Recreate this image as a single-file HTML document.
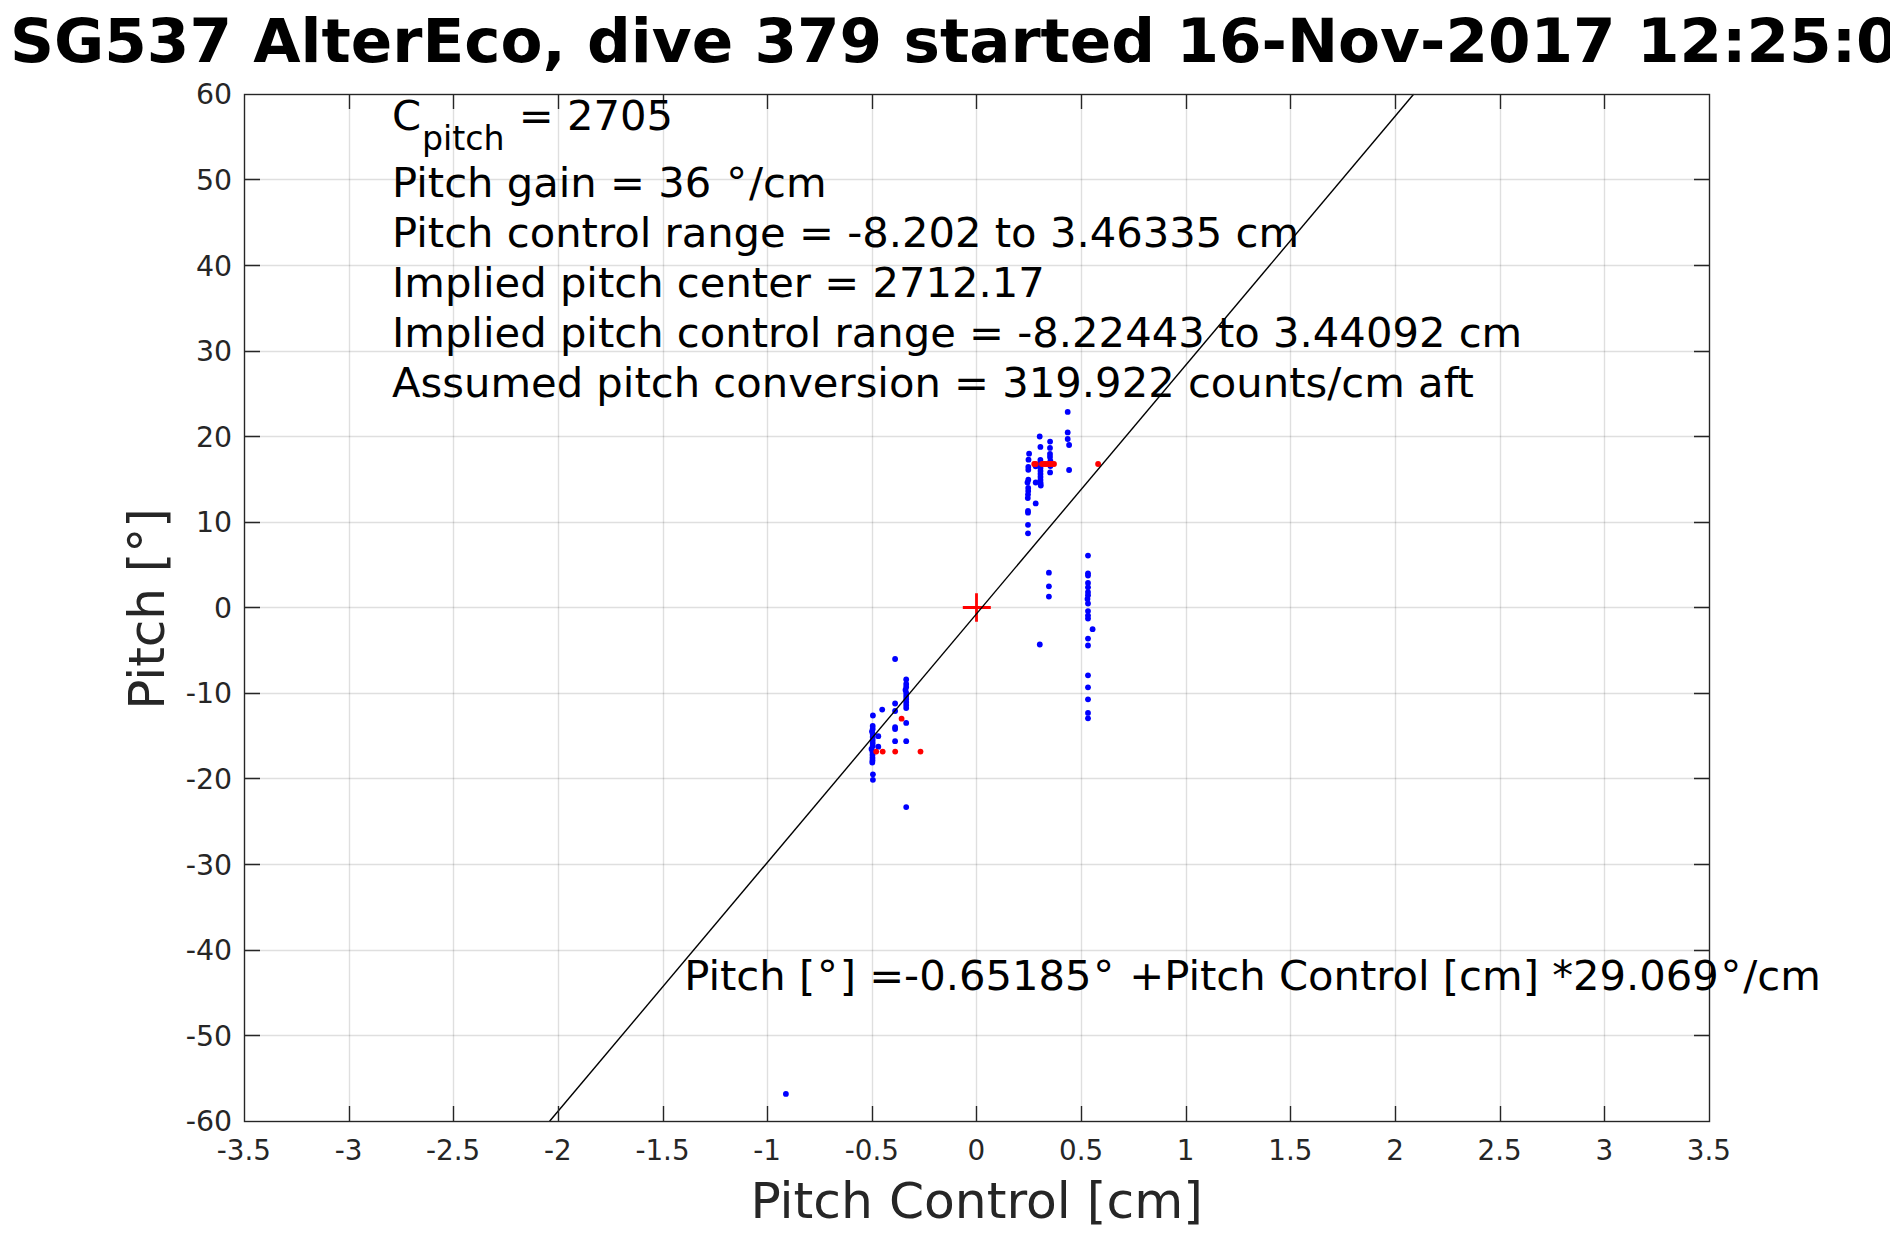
<!DOCTYPE html>
<html lang="en"><head><meta charset="utf-8"><title>SG537 AlterEco, dive 379</title>
<style>html,body{margin:0;padding:0;background:#fff;}body{width:1890px;height:1260px;overflow:hidden;}svg{display:block;}text{font-family:'DejaVu Sans','Liberation Sans',sans-serif;white-space:pre;}</style></head><body>
<svg width="1890" height="1260" viewBox="0 0 1890 1260">
<rect x="0" y="0" width="1890" height="1260" fill="#fff"/>
<path d="M349.5 94.5V1121.5M453.5 94.5V1121.5M558.5 94.5V1121.5M663.5 94.5V1121.5M767.5 94.5V1121.5M872.5 94.5V1121.5M976.5 94.5V1121.5M1081.5 94.5V1121.5M1186.5 94.5V1121.5M1290.5 94.5V1121.5M1395.5 94.5V1121.5M1500.5 94.5V1121.5M1604.5 94.5V1121.5" stroke="rgba(38,38,38,0.15)" stroke-width="1.39" fill="none"/>
<path d="M244.5 179.5H1709.5M244.5 265.5H1709.5M244.5 351.5H1709.5M244.5 436.5H1709.5M244.5 522.5H1709.5M244.5 607.5H1709.5M244.5 693.5H1709.5M244.5 778.5H1709.5M244.5 864.5H1709.5M244.5 950.5H1709.5M244.5 1035.5H1709.5" stroke="rgba(38,38,38,0.15)" stroke-width="1.39" fill="none"/>
<g fill="#0000ff">
<circle cx="1067.7" cy="411.9" r="2.9"/>
<circle cx="1067.7" cy="432.4" r="2.9"/>
<circle cx="1067.7" cy="439.0" r="2.9"/>
<circle cx="1069.1" cy="445.0" r="2.9"/>
<circle cx="1069.1" cy="470.0" r="2.9"/>
<circle cx="1039.7" cy="436.5" r="2.9"/>
<circle cx="1040.4" cy="446.9" r="2.9"/>
<circle cx="1040.4" cy="460.0" r="2.9"/>
<circle cx="1040.5" cy="462.5" r="2.9"/>
<circle cx="1040.5" cy="465" r="2.9"/>
<circle cx="1040.5" cy="468" r="2.9"/>
<circle cx="1040.5" cy="471" r="2.9"/>
<circle cx="1040.5" cy="474" r="2.9"/>
<circle cx="1040.5" cy="477" r="2.9"/>
<circle cx="1040.5" cy="480" r="2.9"/>
<circle cx="1040.6" cy="483" r="2.9"/>
<circle cx="1040.8" cy="485.5" r="2.9"/>
<circle cx="1050.1" cy="441.6" r="2.9"/>
<circle cx="1050.0" cy="447.9" r="2.9"/>
<circle cx="1050" cy="454" r="2.9"/>
<circle cx="1050" cy="457" r="2.9"/>
<circle cx="1050.4" cy="461" r="2.9"/>
<circle cx="1050.4" cy="466" r="2.9"/>
<circle cx="1050.1" cy="472.4" r="2.9"/>
<circle cx="1029.1" cy="453.7" r="2.9"/>
<circle cx="1028.5" cy="459.7" r="2.9"/>
<circle cx="1028.3" cy="467.0" r="2.9"/>
<circle cx="1028.3" cy="469.8" r="2.9"/>
<circle cx="1028.3" cy="479.7" r="2.9"/>
<circle cx="1027.5" cy="482.5" r="2.9"/>
<circle cx="1028.2" cy="487.9" r="2.9"/>
<circle cx="1028.2" cy="491.1" r="2.9"/>
<circle cx="1028" cy="494.6" r="2.9"/>
<circle cx="1027.8" cy="498.1" r="2.9"/>
<circle cx="1028" cy="510.8" r="2.9"/>
<circle cx="1028" cy="512.7" r="2.9"/>
<circle cx="1028" cy="524.8" r="2.9"/>
<circle cx="1028" cy="533.3" r="2.9"/>
<circle cx="1035.7" cy="466.3" r="2.9"/>
<circle cx="1035.7" cy="482.5" r="2.9"/>
<circle cx="1035.7" cy="503.4" r="2.9"/>
<circle cx="1048.9" cy="572.7" r="2.9"/>
<circle cx="1048.9" cy="586.3" r="2.9"/>
<circle cx="1048.9" cy="596.6" r="2.9"/>
<circle cx="1088.0" cy="555.6" r="2.9"/>
<circle cx="1088.0" cy="573.3" r="2.9"/>
<circle cx="1088.0" cy="575.6" r="2.9"/>
<circle cx="1088.0" cy="582.9" r="2.9"/>
<circle cx="1088.0" cy="587.3" r="2.9"/>
<circle cx="1088.0" cy="592.1" r="2.9"/>
<circle cx="1088.0" cy="595.2" r="2.9"/>
<circle cx="1087.5" cy="599.0" r="2.9"/>
<circle cx="1088.0" cy="603.5" r="2.9"/>
<circle cx="1088.0" cy="611.1" r="2.9"/>
<circle cx="1088.0" cy="615.6" r="2.9"/>
<circle cx="1088.0" cy="618.6" r="2.9"/>
<circle cx="1088.0" cy="638.6" r="2.9"/>
<circle cx="1088.0" cy="645.5" r="2.9"/>
<circle cx="1088.0" cy="675.3" r="2.9"/>
<circle cx="1088.0" cy="687.3" r="2.9"/>
<circle cx="1088.0" cy="699.3" r="2.9"/>
<circle cx="1088.0" cy="712.9" r="2.9"/>
<circle cx="1088.0" cy="718.3" r="2.9"/>
<circle cx="1092.6" cy="629.2" r="2.9"/>
<circle cx="1039.8" cy="644.5" r="2.9"/>
<circle cx="895.1" cy="659.0" r="2.9"/>
<circle cx="906.2" cy="679.5" r="2.9"/>
<circle cx="906.2" cy="684" r="2.9"/>
<circle cx="906.2" cy="687" r="2.9"/>
<circle cx="905.5" cy="690" r="2.9"/>
<circle cx="906.2" cy="693" r="2.9"/>
<circle cx="906.2" cy="696" r="2.9"/>
<circle cx="906.2" cy="699" r="2.9"/>
<circle cx="906.2" cy="702" r="2.9"/>
<circle cx="906.2" cy="705" r="2.9"/>
<circle cx="906.2" cy="708" r="2.9"/>
<circle cx="895.1" cy="703.5" r="2.9"/>
<circle cx="895.1" cy="711.0" r="2.9"/>
<circle cx="882.2" cy="709.6" r="2.9"/>
<circle cx="872.9" cy="715.5" r="2.9"/>
<circle cx="906.2" cy="722.9" r="2.9"/>
<circle cx="895.1" cy="727.1" r="2.9"/>
<circle cx="895.1" cy="729.0" r="2.9"/>
<circle cx="895.1" cy="741.2" r="2.9"/>
<circle cx="906.2" cy="741.2" r="2.9"/>
<circle cx="872.7" cy="726" r="2.9"/>
<circle cx="872.7" cy="729" r="2.9"/>
<circle cx="872" cy="731.5" r="2.9"/>
<circle cx="872.7" cy="734" r="2.9"/>
<circle cx="872.7" cy="737" r="2.9"/>
<circle cx="872.7" cy="740" r="2.9"/>
<circle cx="872.7" cy="743" r="2.9"/>
<circle cx="872.7" cy="746" r="2.9"/>
<circle cx="871.5" cy="749" r="2.9"/>
<circle cx="872.5" cy="752" r="2.9"/>
<circle cx="872.5" cy="755" r="2.9"/>
<circle cx="872.5" cy="758" r="2.9"/>
<circle cx="872.5" cy="760.5" r="2.9"/>
<circle cx="872.3" cy="762.5" r="2.9"/>
<circle cx="878.3" cy="736.2" r="2.9"/>
<circle cx="878.3" cy="746.7" r="2.9"/>
<circle cx="872.9" cy="774.3" r="2.9"/>
<circle cx="872.9" cy="779.8" r="2.9"/>
<circle cx="906.2" cy="807.1" r="2.9"/>
<circle cx="785.9" cy="1093.9" r="2.9"/>
</g>
<g fill="#ff0000">
<circle cx="1034.2" cy="464.0" r="2.9"/>
<circle cx="1035.8" cy="464.0" r="2.9"/>
<circle cx="1042" cy="464" r="2.9"/>
<circle cx="1044" cy="464" r="2.9"/>
<circle cx="1046" cy="464" r="2.9"/>
<circle cx="1048" cy="464" r="2.9"/>
<circle cx="1050" cy="464" r="2.9"/>
<circle cx="1052" cy="464" r="2.9"/>
<circle cx="1054" cy="464" r="2.9"/>
<circle cx="1098.1" cy="464.0" r="2.9"/>
<circle cx="901.6" cy="718.7" r="2.9"/>
<circle cx="876.2" cy="751.6" r="2.9"/>
<circle cx="882.7" cy="751.6" r="2.9"/>
<circle cx="895.2" cy="751.6" r="2.9"/>
<circle cx="920.5" cy="751.6" r="2.9"/>
</g>
<path d="M962.8 607.5H990.8M976.5 593.3V621.7" stroke="#ff0000" stroke-width="2.8" fill="none"/>
<path d="M1413.6 94.3L549.6 1121.3" stroke="#000" stroke-width="1.4" fill="none"/>
<path d="M349.5 1121.5V1106M349.5 94.0V109M453.5 1121.5V1106M453.5 94.0V109M558.5 1121.5V1106M558.5 94.0V109M663.5 1121.5V1106M663.5 94.0V109M767.5 1121.5V1106M767.5 94.0V109M872.5 1121.5V1106M872.5 94.0V109M976.5 1121.5V1106M976.5 94.0V109M1081.5 1121.5V1106M1081.5 94.0V109M1186.5 1121.5V1106M1186.5 94.0V109M1290.5 1121.5V1106M1290.5 94.0V109M1395.5 1121.5V1106M1395.5 94.0V109M1500.5 1121.5V1106M1500.5 94.0V109M1604.5 1121.5V1106M1604.5 94.0V109M244.5 179.5H260M1709.5 179.5H1694M244.5 265.5H260M1709.5 265.5H1694M244.5 351.5H260M1709.5 351.5H1694M244.5 436.5H260M1709.5 436.5H1694M244.5 522.5H260M1709.5 522.5H1694M244.5 607.5H260M1709.5 607.5H1694M244.5 693.5H260M1709.5 693.5H1694M244.5 778.5H260M1709.5 778.5H1694M244.5 864.5H260M1709.5 864.5H1694M244.5 950.5H260M1709.5 950.5H1694M244.5 1035.5H260M1709.5 1035.5H1694" stroke="#262626" stroke-width="1.39" fill="none"/>
<rect x="244.5" y="94.5" width="1465.0" height="1027.0" stroke="#262626" stroke-width="1.39" fill="none"/>
<g font-size="41.70" fill="#000">
<text x="391.9" y="130.2">C<tspan dy="19.3" dx="1.0" font-size="33.2">pitch</tspan><tspan dy="-19.3" dx="0.9"> = 2705</tspan></text>
<text x="392.0" y="197.0">Pitch gain = 36 <tspan dx="1.7">°</tspan><tspan dx="1.9">/cm</tspan></text>
<text x="392.0" y="247.0">Pitch control range = -8.202 to 3.46335 cm</text>
<text x="392.0" y="297.0">Implied pitch center = 2712.17</text>
<text x="392.0" y="347.0">Implied pitch control range = -8.22443 to 3.44092 cm</text>
<text x="392.0" y="397.0">Assumed pitch conversion = 319.922 counts/cm aft</text>
<text x="684.2" y="990.2">Pitch [<tspan dx="1.7">°</tspan><tspan dx="1.9">] =-0.65185</tspan><tspan dx="1.7">°</tspan><tspan dx="1.9"> +Pitch Control [cm] *29.069</tspan><tspan dx="1.7">°</tspan><tspan dx="1.9">/cm</tspan></text>
</g>
<g font-size="27.78" fill="#262626">
<text x="243.9" y="1159.6" text-anchor="middle">-3.5</text>
<text x="348.6" y="1159.6" text-anchor="middle">-3</text>
<text x="453.2" y="1159.6" text-anchor="middle">-2.5</text>
<text x="557.9" y="1159.6" text-anchor="middle">-2</text>
<text x="662.5" y="1159.6" text-anchor="middle">-1.5</text>
<text x="767.1" y="1159.6" text-anchor="middle">-1</text>
<text x="871.8" y="1159.6" text-anchor="middle">-0.5</text>
<text x="976.4" y="1159.6" text-anchor="middle">0</text>
<text x="1081.1" y="1159.6" text-anchor="middle">0.5</text>
<text x="1185.7" y="1159.6" text-anchor="middle">1</text>
<text x="1290.4" y="1159.6" text-anchor="middle">1.5</text>
<text x="1395.0" y="1159.6" text-anchor="middle">2</text>
<text x="1499.6" y="1159.6" text-anchor="middle">2.5</text>
<text x="1604.3" y="1159.6" text-anchor="middle">3</text>
<text x="1708.9" y="1159.6" text-anchor="middle">3.5</text>
<text x="232.2" y="104.3" text-anchor="end" font-size="28.4">60</text>
<text x="232.2" y="189.9" text-anchor="end" font-size="28.4">50</text>
<text x="232.2" y="275.5" text-anchor="end" font-size="28.4">40</text>
<text x="232.2" y="361.1" text-anchor="end" font-size="28.4">30</text>
<text x="232.2" y="446.6" text-anchor="end" font-size="28.4">20</text>
<text x="232.2" y="532.2" text-anchor="end" font-size="28.4">10</text>
<text x="232.2" y="617.8" text-anchor="end" font-size="28.4">0</text>
<text x="232.2" y="703.4" text-anchor="end" font-size="28.4">-10</text>
<text x="232.2" y="789.0" text-anchor="end" font-size="28.4">-20</text>
<text x="232.2" y="874.5" text-anchor="end" font-size="28.4">-30</text>
<text x="232.2" y="960.1" text-anchor="end" font-size="28.4">-40</text>
<text x="232.2" y="1045.7" text-anchor="end" font-size="28.4">-50</text>
<text x="232.2" y="1131.3" text-anchor="end" font-size="28.4">-60</text>
</g>
<text x="976.6" y="1217.7" font-size="50.33" fill="#262626" text-anchor="middle">Pitch Control [cm]</text>
<text transform="translate(163.8,609) rotate(-90)" font-size="50" fill="#262626" text-anchor="middle">Pitch [°]</text>
<text x="10" y="61.7" font-size="61.18" font-weight="bold" fill="#000">SG537 AlterEco, dive 379 started 16-Nov-2017 12:25:00</text>
</svg></body></html>
